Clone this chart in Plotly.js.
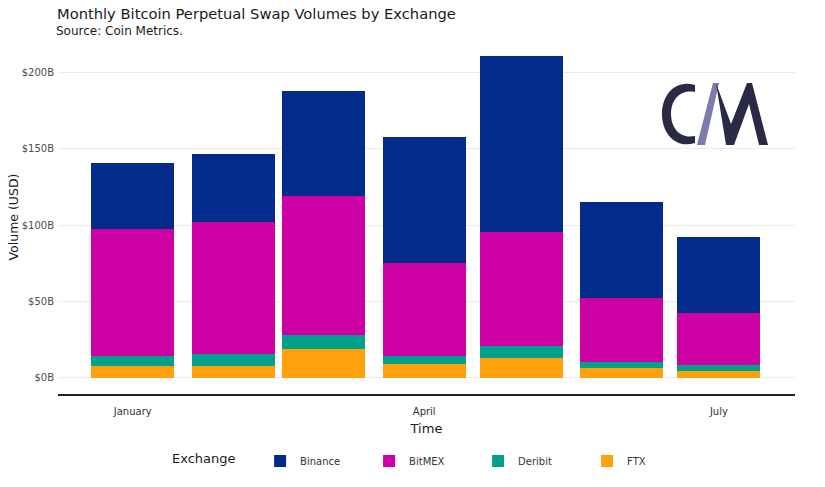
<!DOCTYPE html>
<html>
<head>
<meta charset="utf-8">
<script src="https://cdn.plot.ly/plotly-3.0.1.min.js"></script>
<style>html,body{margin:0;padding:0;background:#fff;}#chart{width:825px;height:487px;}</style>
</head>
<body>
<div id="chart"></div>
<script>
// ---- data (USD billions) ----
const months = ['2021-01-01','2021-02-01','2021-03-01','2021-04-01','2021-05-01','2021-06-01','2021-07-01'];
const ftx     = [8.0, 7.8, 18.7, 9.2, 13.1, 6.8, 4.6];
const deribit = [6.6, 7.7, 9.6, 5.4, 7.8, 3.9, 3.7];
const bitmex  = [82.6, 86.7, 90.4, 60.4, 74.5, 41.4, 34.0];
const binance = [43.5, 44.0, 68.9, 82.3, 115.1, 62.7, 50.1];
const tickDates = ['2021-01-01','2021-04-01','2021-07-01'];
const tickNames = ['January','April','July'];
const yTicks = [0, 50, 100, 150, 200];
const yTickNames = ['$0B','$50B','$100B','$150B','$200B'];

const FONT = 'DejaVu Sans, sans-serif';
const barWidth = 25.6 * 86400000;
function mk(name, y, color){
  return {type:'bar', name:name, x:months, y:y, width:barWidth,
    marker:{color:color, line:{width:0}}, hovertemplate:'%{y:.1f}B<extra>'+name+'</extra>'};
}
// stacking order: FTX bottom, Binance top; legend shows Binance first
const traces = [
  mk('FTX', ftx, '#ffa10a'),
  mk('Deribit', deribit, '#00a08b'),
  mk('BitMEX', bitmex, '#cc00a3'),
  mk('Binance', binance, '#022b8b')
];

// ---- logo geometry (pixel -> paper) ----
const L=58, R=795, T=40, B=394;
function px(x){return ((x-L)/(R-L)).toFixed(4);}
function py(y){return ((B-y)/(B-T)).toFixed(4);}
function P(x,y){return px(x)+','+py(y);}
const cPath = 'M'+P(695,85)+' C'+P(675,79)+' '+P(662,95)+' '+P(662,114)+' C'+P(662,133)+' '+P(675,149)+' '+P(695,143)+
  ' L'+P(695,136)+' C'+P(680,139)+' '+P(671,128)+' '+P(671,114)+' C'+P(671,100)+' '+P(680,89)+' '+P(695,92)+' Z';
const slashPath = 'M'+P(697,145)+' L'+P(705,145)+' L'+P(719,83)+' L'+P(713,83)+' Z';
const mPath = 'M'+P(716,83)+' L'+P(726,145)+' L'+P(734,145)+' L'+P(749,104)+' L'+P(759,145)+' L'+P(768,145)+
  ' L'+P(752,83)+' L'+P(747,83)+' L'+P(731,124)+' Z';

const layout = {
  width:825, height:487,
  margin:{l:L, r:825-R, t:T, b:487-B, pad:0},
  paper_bgcolor:'#ffffff', plot_bgcolor:'#ffffff',
  font:{family:FONT, color:'#222'},
  barmode:'stack',
  bargap:0,
  title:{text:'Monthly Bitcoin Perpetual Swap Volumes by Exchange', font:{family:FONT, size:14.7, color:'#1a1a1a'},
    x:57/825, xanchor:'left', xref:'container', y:0.982, yanchor:'top', yref:'container'},
  annotations:[{text:'Source: Coin Metrics.', xref:'paper', yref:'paper', x:px(54), y:py(31), xanchor:'left', yanchor:'middle',
    showarrow:false, font:{family:FONT, size:12, color:'#1a1a1a'}}],
  xaxis:{type:'date', range:['2020-12-08 22:00','2021-07-24 12:00'],
    tickvals:tickDates, ticktext:tickNames, ticks:'', showgrid:false, zeroline:false,
    showline:true, linecolor:'#222', linewidth:1.5, mirror:false, ticklabelstandoff:7,
    tickfont:{family:FONT, size:10, color:'#333'},
    title:{text:'Time', font:{family:FONT, size:13, color:'#1a1a1a'}, standoff:8}, automargin:false},
  yaxis:{range:[-10.5, 221], tickvals:yTicks, ticktext:yTickNames, ticks:'', showgrid:true, gridcolor:'#ebebeb', gridwidth:1,
    zeroline:false, showline:false, ticklabelstandoff:3, tickfont:{family:FONT, size:10, color:'#4d4d4d'},
    title:{text:'Volume (USD)', font:{family:FONT, size:12.5, color:'#1a1a1a'}, standoff:0}, automargin:false},
  legend:{orientation:'h', traceorder:'reversed', x:px(170), xanchor:'left', y:py(461), yanchor:'middle',
    title:{text:'Exchange\u00a0\u00a0\u00a0\u00a0', font:{family:FONT, size:13, color:'#1a1a1a'}, side:'left'},
    font:{family:FONT, size:10, color:'#333'}, entrywidth:64, entrywidthmode:'pixels', itemwidth:30},
  shapes:[
    {type:'path', xref:'paper', yref:'paper', path:cPath, fillcolor:'#2b2a45', line:{width:0}},
    {type:'path', xref:'paper', yref:'paper', path:slashPath, fillcolor:'#7d7aac', line:{width:0}},
    {type:'path', xref:'paper', yref:'paper', path:mPath, fillcolor:'#2b2a45', line:{width:0}}
  ]
};
Plotly.newPlot('chart', traces, layout, {displayModeBar:false, staticPlot:true});
</script>
</body>
</html>
